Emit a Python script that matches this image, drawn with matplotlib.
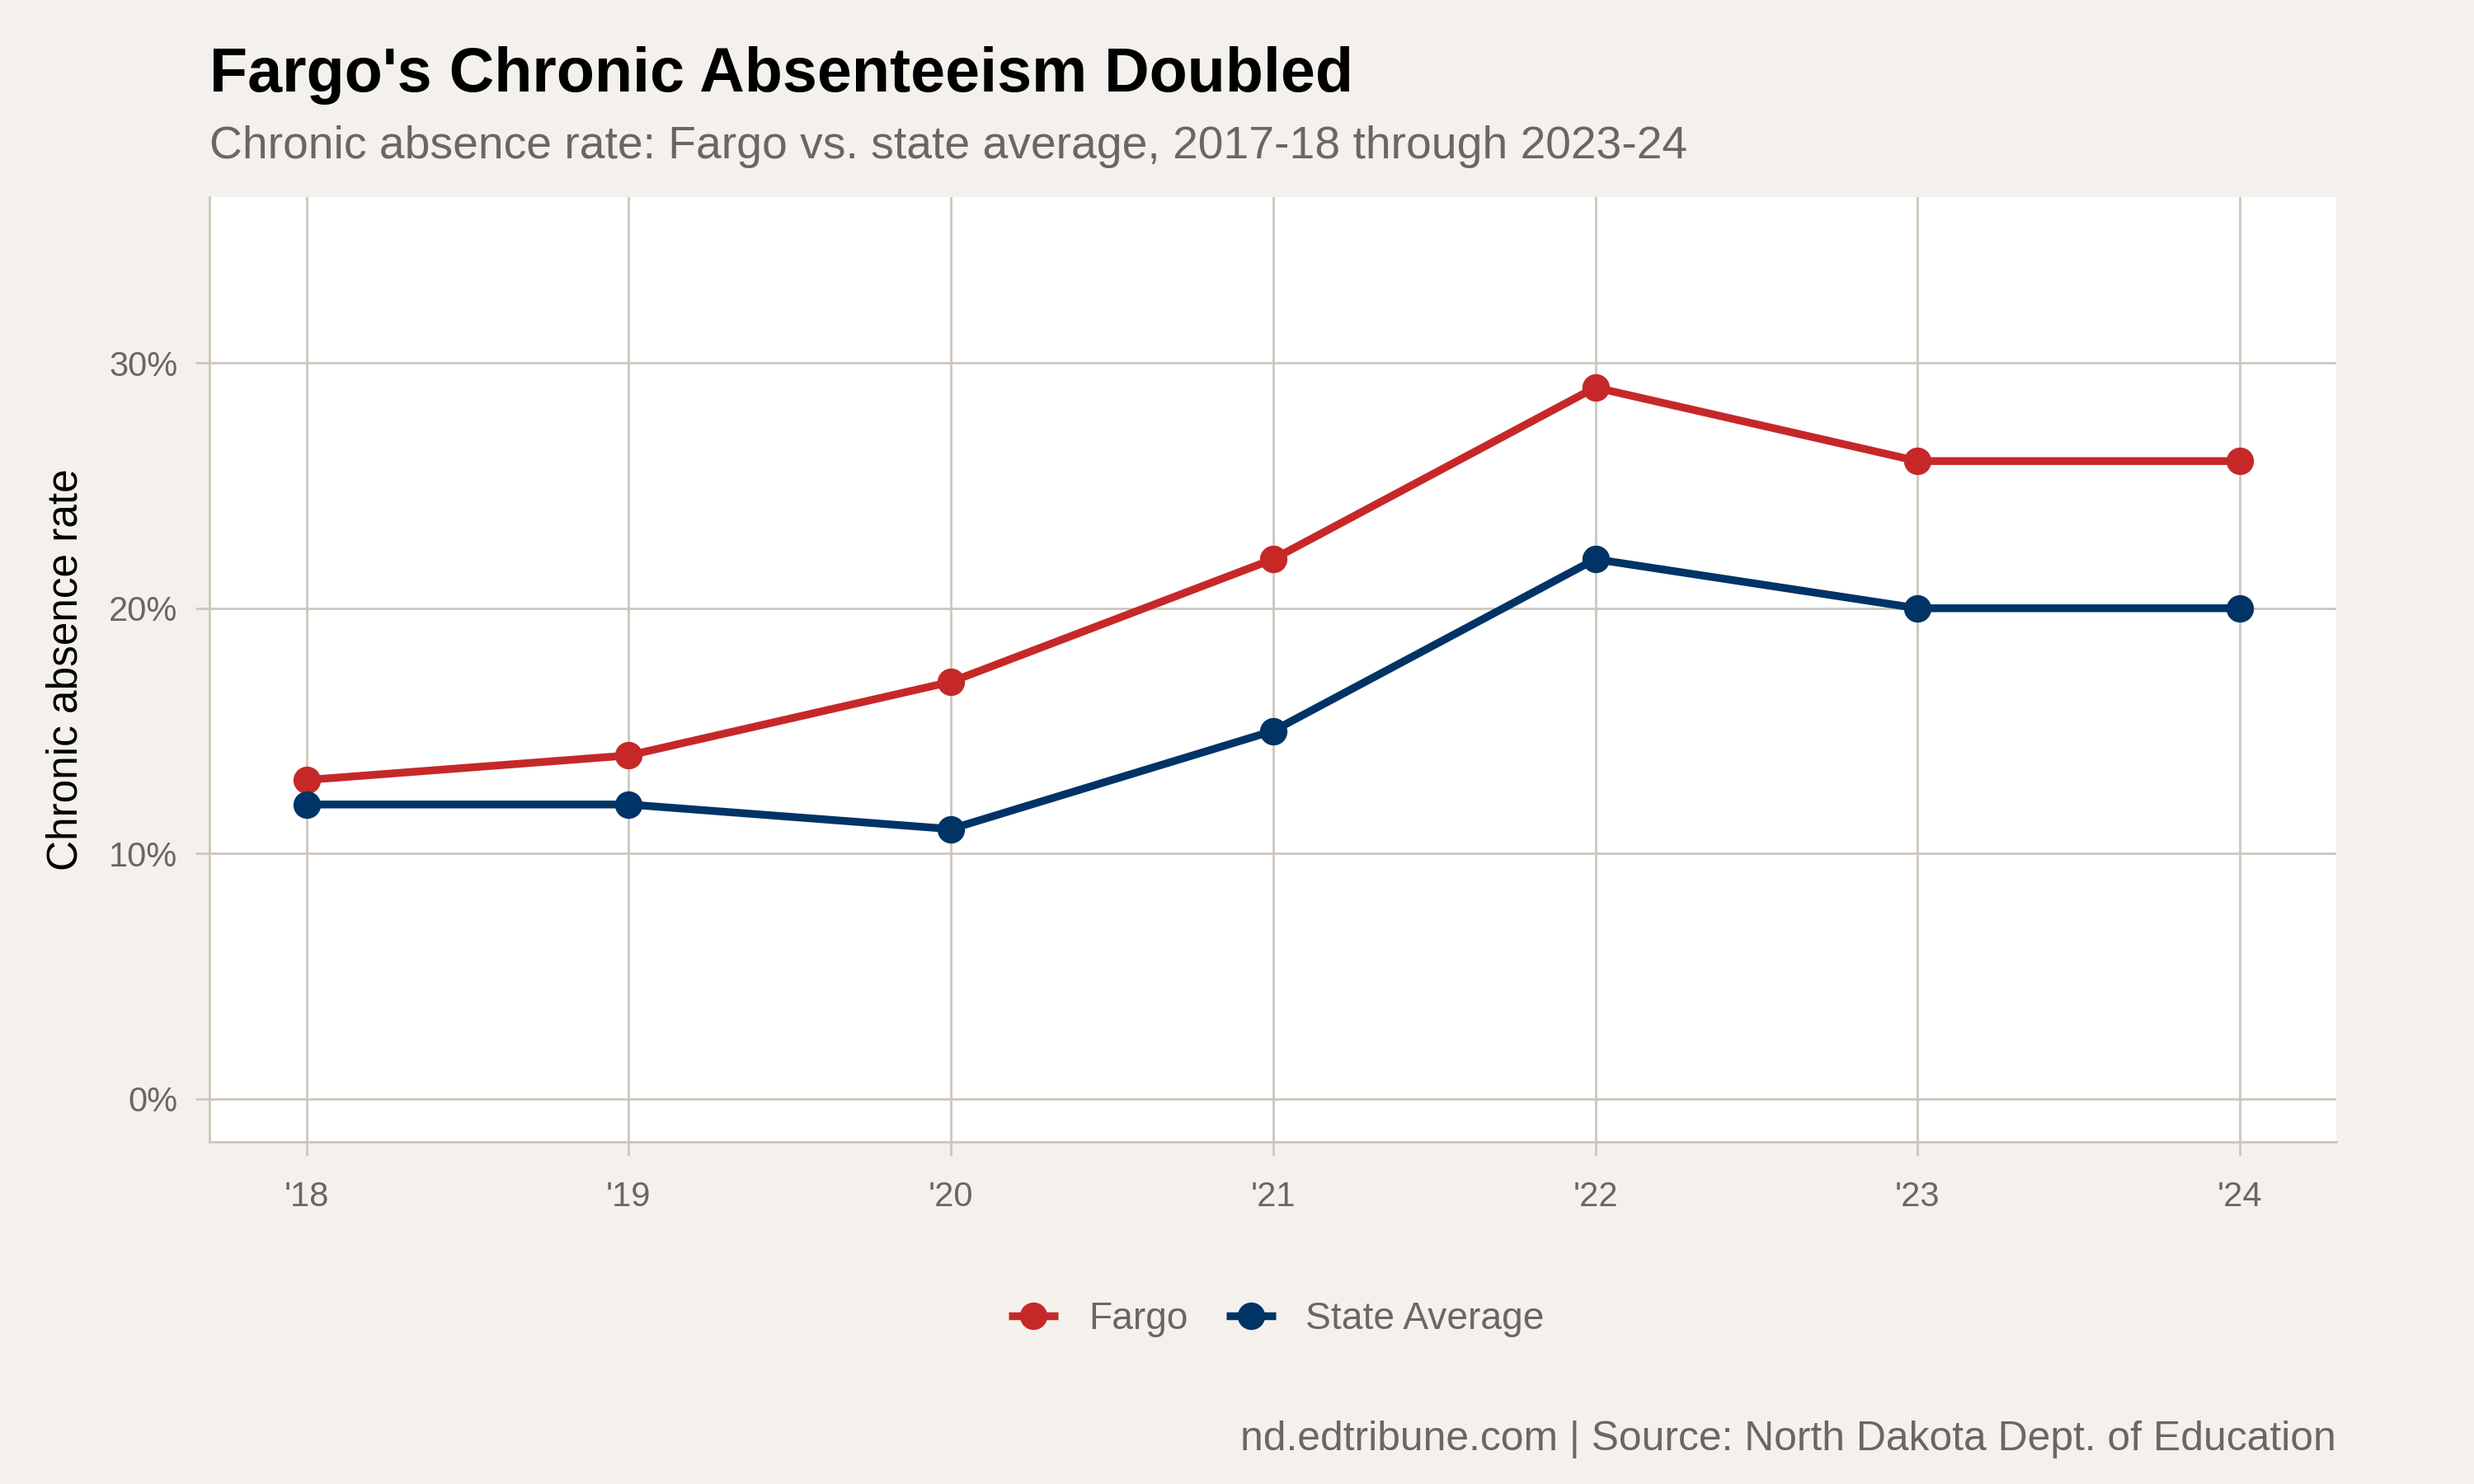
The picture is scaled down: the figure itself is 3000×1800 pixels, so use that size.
import matplotlib.pyplot as plt
from matplotlib.ticker import FuncFormatter

years = [2018, 2019, 2020, 2021, 2022, 2023, 2024]
year_labels = ["'18", "'19", "'20", "'21", "'22", "'23", "'24"]
fargo = [13, 14, 17, 22, 29, 26, 26]
state_avg = [12, 12, 11, 15, 22, 20, 20]

bg = '#f4f1ec'
grid_col = '#cdc6bc'
text_gray = '#6b6661'
red = '#c62828'
navy = '#003366'

plt.rcParams['font.family'] = ['Liberation Sans', 'DejaVu Sans']

fig = plt.figure(figsize=(15, 9), dpi=200, facecolor=bg)
ax = fig.add_axes([0.0848, 0.2306, 0.8596, 0.6364])
ax.set_facecolor('white')

ax.plot(years, fargo, color=red, lw=3.4, marker='o', ms=11, label='Fargo',
        solid_capstyle='butt', zorder=3)
ax.plot(years, state_avg, color=navy, lw=3.4, marker='o', ms=11, label='State Average',
        solid_capstyle='butt', zorder=3)

ax.set_xlim(2017.7, 2024.3)
ax.set_ylim(-1.75, 36.75)
ax.set_xticks(years)
ax.set_xticklabels(year_labels)
ax.set_yticks([0, 10, 20, 30])
ax.yaxis.set_major_formatter(FuncFormatter(lambda v, p: f'{v:.0f}%'))

ax.grid(True, color=grid_col, lw=1.0)
ax.set_axisbelow(True)
for s in ['top', 'right']:
    ax.spines[s].set_visible(False)
for s in ['left', 'bottom']:
    ax.spines[s].set_color(grid_col)
    ax.spines[s].set_linewidth(1.0)
ax.tick_params(axis='both', colors=grid_col, labelcolor=text_gray, labelsize=15,
               length=6, width=1.0)
ax.tick_params(axis='x', pad=11)
ax.tick_params(axis='y', pad=8)

ax.set_ylabel('Chronic absence rate', fontsize=18.5, color='black', labelpad=10)

fig.text(0.0848, 0.949, "Fargo's Chronic Absenteeism Doubled", fontsize=27.2,
         fontweight='bold', color='black', ha='left', va='center')
fig.text(0.0848, 0.901, 'Chronic absence rate: Fargo vs. state average, 2017-18 through 2023-24',
         fontsize=19.9, color=text_gray, ha='left', va='center')
fig.text(0.9444, 0.030, 'nd.edtribune.com | Source: North Dakota Dept. of Education',
         fontsize=17.9, color=text_gray, ha='right', va='center')

leg = fig.legend(loc='center', bbox_to_anchor=(0.516, 0.111), ncol=2, frameon=False,
                 fontsize=16.6, handlelength=1.3, columnspacing=1.0, handletextpad=0.8)
for t in leg.get_texts():
    t.set_color(text_gray)

fig.savefig('out.png', dpi=200, facecolor=bg)
